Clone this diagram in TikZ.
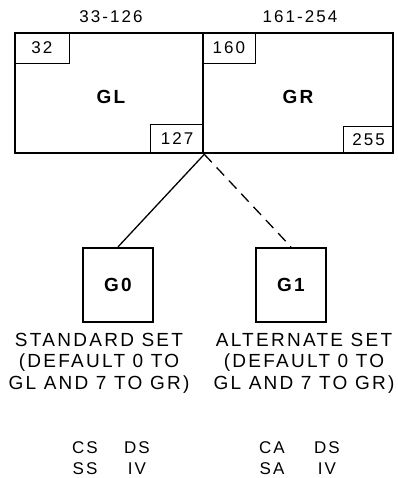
\documentclass[tikz,border=0pt]{standalone}
\usepackage{fontspec}
\setmainfont{Liberation Sans}[LetterSpace=12]
\usetikzlibrary{positioning}

\begin{document}
\begin{tikzpicture}[
  x=1pt, y=-1pt,
  every node/.style={font=\fontsize{17}{21.5}\selectfont},
  bigbox/.style={draw, line width=2.6pt, minimum height=120pt, inner sep=0pt},
  numbox/.style={draw, line width=1.5pt, inner sep=0pt},
  tag/.style={font=\fontsize{19}{21.5}\selectfont\bfseries},
  setbox/.style={draw, line width=2.2pt, minimum width=70pt, minimum height=74pt,
                 inner sep=0pt, tag},
  note/.style={align=center, inner sep=0pt, font=\fontsize{19}{21.5}\selectfont},
  link/.style={line width=1.3pt},
]
  \useasboundingbox (0,0) rectangle (397,478);

  % Graphic left and right halves
  \node[bigbox, minimum width=188pt] (gl) at (109,93) {};
  \node[bigbox, minimum width=190pt] (gr) at (298,93) {};
  \node[tag] (gltxt) at (111,97) {GL};
  \node[tag] (grtxt) at (298,97) {GR};

  \node (glrange) at (111,17) {33-126};
  \node (grrange) at (300,17) {161-254};

  % Corner codes
  \node[numbox, anchor=north west, minimum width=55pt, minimum height=31pt] (c32) at (gl.north west) {32};
  \node[numbox, anchor=south east, minimum width=53pt, minimum height=29pt] (c127) at (gl.south east) {127};
  \node[numbox, anchor=north west, minimum width=53pt, minimum height=31pt] (c160) at (gr.north west) {160};
  \node[numbox, anchor=south east, minimum width=50pt, minimum height=27pt] (c255) at (gr.south east) {255};

  \coordinate (jct) at (gl.south east);

  % Graphic sets G0 and G1
  \node[setbox] (g0) at (118,285) {G0};
  \node[setbox] (g1) at (291,285) {G1};

  \draw[link] (jct) -- (g0.north);
  \draw[link, dash pattern=on 11pt off 7pt] (jct) -- (g1.north);

  \node[note] (g0txt) at (99,363) {STANDARD SET\\(DEFAULT 0 TO\\GL AND 7 TO GR)};
  \node[note] (g1txt) at (304,363) {ALTERNATE SET\\(DEFAULT 0 TO\\GL AND 7 TO GR)};

  % Control codes
  \node (cs) at (85,448) {CS};
  \node (ds0) at (137,448) {DS};
  \node (ss) at (85,469) {SS};
  \node (iv0) at (137,469) {IV};
  \node (ca) at (272,448) {CA};
  \node (ds1) at (327,448) {DS};
  \node (sa) at (272,469) {SA};
  \node (iv1) at (327,469) {IV};
\end{tikzpicture}
\end{document}
